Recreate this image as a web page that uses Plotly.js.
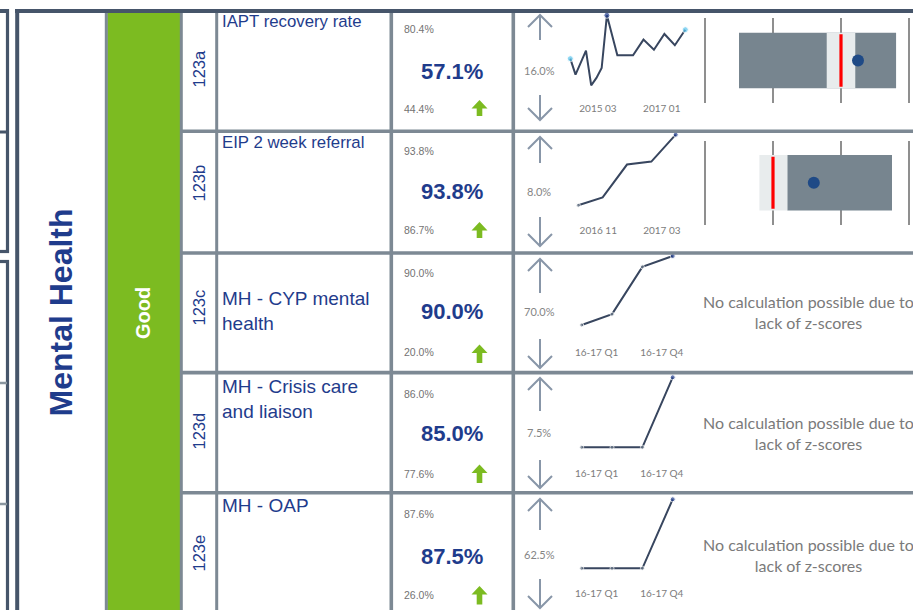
<!DOCTYPE html>
<html><head><meta charset="utf-8">
<script src="https://cdn.plot.ly/plotly-3.0.1.min.js"></script>
<style>html,body{margin:0;padding:0;background:#fff}#chart{width:913px;height:610px}</style>
</head><body><div id="chart"></div>
<script>
// ---------------- data ----------------
const sectionTitle = "Mental Health";
const ratingLabel = "Good";
const indicatorIds = ["123a", "123b", "123c", "123d", "123e"];
const indicatorNames = ["IAPT recovery rate", "EIP 2 week referral", "MH - CYP mental<br>health", "MH - Crisis care<br>and liaison", "MH - OAP"];
const currentValues = ["57.1%", "93.8%", "90.0%", "85.0%", "87.5%"];
const upperValues = ["80.4%", "93.8%", "90.0%", "86.0%", "87.6%"];
const lowerValues = ["44.4%", "86.7%", "20.0%", "77.6%", "26.0%"];
const changeValues = ["16.0%", "8.0%", "70.0%", "7.5%", "62.5%"];

const iaptPeriods = [0, 1, 3, 4, 5, 6, 7, 9, 12, 14, 16, 18, 20, 22];
const iaptValues = [58.1, 49.9, 62.2, 44.4, 48.2, 53.3, 80.4, 59.8, 59.8, 67.9, 62.7, 70.8, 65.0, 73.0];
const iaptTickVals = [5.3, 17.5];
const iaptTickText = ["2015 03", "2017 01"];

const eipPeriods = [0, 1, 2, 3, 4];
const eipValues = [86.7, 87.5, 90.8, 91.1, 93.8];
const eipTickVals = [0.82, 3.43];
const eipTickText = ["2016 11", "2017 03"];

const quarterPeriods = [0, 1, 2, 3];
const quarterTickVals = [0.49, 2.64];
const quarterTickText = ["16-17 Q1", "16-17 Q4"];
const cypValues = [20.0, 31.0, 79.0, 90.0];
const crisisValues = [77.6, 77.6, 77.6, 85.0];
const oapValues = [25.0, 25.0, 25.0, 87.5];

// z-score comparison (rows 123a, 123b)
const zBoxLow = [-1.50, -0.79];
const zBoxHigh = [0.81, 0.75];
const zBandLow = [-0.21, -1.20];
const zBandHigh = [0.21, -0.79];
const zComparator = [0.0, -1.0];
const zValue = [0.25, -0.40];
const zTicks = [-2, -1, 0, 1];
const noZText = "No calculation possible due to<br>lack of z-scores";

// ---------------- helpers ----------------
const W = 913, H = 610;
const X = p => p / W;
const Y = p => 1 - p / H;
const NAVY = '#1f3c8c';
const INNER = '#7d8994';
const OUTER = '#46556a';

const traces = [];
const layout = {
  width: W, height: H, margin: {l: 0, r: 0, t: 0, b: 0},
  paper_bgcolor: '#ffffff', plot_bgcolor: 'rgba(0,0,0,0)',
  showlegend: false, barmode: 'overlay',
  shapes: [], annotations: []
};

// ---------------- sparklines ----------------
const spark = [
  {xs: iaptPeriods, ys: iaptValues, tv: iaptTickVals, tt: iaptTickText, xl: 570.3, xr: 685.3, pTop: 15.3, pBot: 85.3, dBot: 100.5, style: 'ends'},
  {xs: eipPeriods, ys: eipValues, tv: eipTickVals, tt: eipTickText, xl: 578.3, xr: 675.7, pTop: 134.7, pBot: 205.3, dBot: 222.5, style: 'first'},
  {xs: quarterPeriods, ys: cypValues, tv: quarterTickVals, tt: quarterTickText, xl: 581.7, xr: 672.7, pTop: 256, pBot: 325, dBot: 345, style: 'all'},
  {xs: quarterPeriods, ys: crisisValues, tv: quarterTickVals, tt: quarterTickText, xl: 581.7, xr: 672.7, pTop: 377.3, pBot: 447.3, dBot: 466.3, style: 'all'},
  {xs: quarterPeriods, ys: oapValues, tv: quarterTickVals, tt: quarterTickText, xl: 581.7, xr: 672.7, pTop: 499.3, pBot: 568.3, dBot: 586.3, style: 'all'}
];

spark.forEach((s, i) => {
  const n = i + 1;
  const xa = 'x' + (n === 1 ? '' : n), ya = 'y' + (n === 1 ? '' : n);
  const xk = 'xaxis' + (n === 1 ? '' : n), yk = 'yaxis' + (n === 1 ? '' : n);
  const vmin = Math.min(...s.ys), vmax = Math.max(...s.ys);
  const upp = (vmax - vmin) / (s.pBot - s.pTop);
  const x0 = s.xs[0], x1 = s.xs[s.xs.length - 1];
  const xpp = (x1 - x0) / (s.xr - s.xl);
  const pad = 4;
  layout[xk] = {
    domain: [X(s.xl - pad), X(s.xr + pad)], range: [x0 - pad * xpp, x1 + pad * xpp],
    anchor: ya, showgrid: false, zeroline: false, showline: false, ticks: '',
    tickmode: 'array', tickvals: s.tv, ticktext: s.tt,
    tickfont: {family: 'Lato, Open Sans, sans-serif', size: 10, color: '#7c7c7c'}, fixedrange: true
  };
  layout[yk] = {
    domain: [Y(s.dBot), Y(s.pTop - pad)], range: [vmin - (s.dBot - s.pBot) * upp, vmax + pad * upp],
    anchor: xa, showgrid: false, zeroline: false, showline: false, showticklabels: false, ticks: '', fixedrange: true
  };
  traces.push({type: 'scatter', mode: 'lines', x: s.xs, y: s.ys, xaxis: xa, yaxis: ya,
    line: {color: '#38465f', width: 2}, hoverinfo: 'skip'});
  let mx = [], my = [], mc = [], ms = [];
  const last = s.xs.length - 1;
  if (s.style === 'ends') {
    const imax = s.ys.indexOf(vmax);
    [[0, '#5cc6ee', 6], [imax, '#1f3c8c', 6], [last, '#5cc6ee', 6]].forEach(([k, c, z]) => { mx.push(s.xs[k]); my.push(s.ys[k]); mc.push(c); ms.push(z); });
  } else if (s.style === 'first') {
    [[0, '#6d7b8c', 4], [last, '#1f3c8c', 5]].forEach(([k, c, z]) => { mx.push(s.xs[k]); my.push(s.ys[k]); mc.push(c); ms.push(z); });
  } else {
    s.xs.forEach((v, k) => { mx.push(v); my.push(s.ys[k]); mc.push(k === last ? '#1f3c8c' : '#6d7b8c'); ms.push(k === last ? 5 : 4); });
  }
  traces.push({type: 'scatter', mode: 'markers', x: mx, y: my, xaxis: xa, yaxis: ya, cliponaxis: false,
    marker: {color: mc, size: ms}, hoverinfo: 'skip'});
});

// ---------------- z-score bars ----------------
const zRows = [{gTop: 18.3, gBot: 102.7}, {gTop: 140.7, gBot: 224.7}];
const zUnit = 68;
zRows.forEach((r, i) => {
  const n = 6 + i;
  const xa = 'x' + n, ya = 'y' + n;
  layout['xaxis' + n] = {
    domain: [X(700), X(913)], range: [zTicks[0] - 5 / zUnit, zTicks[zTicks.length - 1] + 4 / zUnit],
    anchor: ya, tickmode: 'array', tickvals: zTicks, showticklabels: false, ticks: '',
    showgrid: true, gridcolor: '#8f8f8f', gridwidth: 1.6, zeroline: false, showline: false, fixedrange: true
  };
  layout['yaxis' + n] = {
    domain: [Y(r.gBot), Y(r.gTop)], range: [-0.5, 0.5], anchor: xa,
    showgrid: false, zeroline: false, showline: false, showticklabels: false, ticks: '', fixedrange: true
  };
  traces.push({type: 'bar', orientation: 'h', y: [0], base: [zBoxLow[i]], x: [zBoxHigh[i] - zBoxLow[i]], width: 0.66,
    xaxis: xa, yaxis: ya, marker: {color: '#77858f', line: {width: 0}}, hoverinfo: 'skip'});
  traces.push({type: 'bar', orientation: 'h', y: [0], base: [zBandLow[i]], x: [zBandHigh[i] - zBandLow[i]], width: 0.66,
    xaxis: xa, yaxis: ya, marker: {color: '#e8eced', line: {width: 0}}, hoverinfo: 'skip'});
  traces.push({type: 'scatter', mode: 'lines', x: [zComparator[i], zComparator[i]], y: [-0.31, 0.31],
    xaxis: xa, yaxis: ya, line: {color: '#ff0000', width: 3.2}, hoverinfo: 'skip'});
  traces.push({type: 'scatter', mode: 'markers', x: [zValue[i]], y: [0], xaxis: xa, yaxis: ya, cliponaxis: false,
    marker: {color: '#1f4a86', size: 12}, hoverinfo: 'skip'});
});

// ---------------- table structure ----------------
function line(x0, y0, x1, y1, color, w) {
  layout.shapes.push({type: 'line', xref: 'paper', yref: 'paper', x0: X(x0), y0: Y(y0), x1: X(x1), y1: Y(y1),
    line: {color: color, width: w}, layer: 'above'});
}
layout.shapes.push({type: 'rect', xref: 'paper', yref: 'paper', x0: X(107.3), x1: X(180), y0: Y(13), y1: Y(612),
  fillcolor: '#7cbb21', line: {width: 0}, layer: 'below'});
// far-left fragments
line(0, 11, 9, 11, OUTER, 4);
line(7.5, 9, 7.5, 253, OUTER, 3.2);
line(0, 132, 8, 132, OUTER, 3);
line(0, 251.5, 9, 251.5, OUTER, 3.2);
line(0, 261.5, 9, 261.5, OUTER, 3.2);
line(7.5, 260, 7.5, 612, OUTER, 3.2);
line(0, 383, 7, 383, '#8a96a0', 2.5);
line(0, 504, 7, 504, '#8a96a0', 2.5);
// inner grid
[106.3, 181.3, 216.7, 391.3, 513.3].forEach(x => line(x, 13, x, 612, INNER, x > 380 ? 3.6 : 3));
[131.3, 253, 372.6, 492.8].forEach(y => line(181, y, 913, y, INNER, 3.6));
// outer frame
line(15, 11, 913, 11, OUTER, 4.2);
line(17.2, 9, 17.2, 612, OUTER, 4);

// trend arrows
const arrowGeom = [[15, 40, 95, 120], [137, 163, 217, 246], [259, 293, 339, 368], [378, 411, 460, 488], [499, 530, 579, 608]];
const acx = 540, aw = 12;
function P(x, y) { return X(x) + ',' + Y(y); }
arrowGeom.forEach(g => {
  layout.shapes.push({type: 'path', xref: 'paper', yref: 'paper', line: {color: '#8896a8', width: 2},
    path: `M ${P(acx - aw, g[0] + aw)} L ${P(acx, g[0])} L ${P(acx + aw, g[0] + aw)} M ${P(acx, g[0])} L ${P(acx, g[1])}`});
  layout.shapes.push({type: 'path', xref: 'paper', yref: 'paper', line: {color: '#8896a8', width: 2},
    path: `M ${P(acx, g[2])} L ${P(acx, g[3])} M ${P(acx - aw, g[3] - aw)} L ${P(acx, g[3])} L ${P(acx + aw, g[3] - aw)}`});
});
// green status arrows
const greenTop = [100, 222, 344.5, 464.5, 586];
const greenH = [16, 16, 18.5, 18.5, 18.5];
greenTop.forEach((t, i) => {
  const cx = 479.5, hw = 8, hh = 8.5, sw = 2.8, h = greenH[i];
  layout.shapes.push({type: 'path', xref: 'paper', yref: 'paper', fillcolor: '#7cbb21', line: {width: 0},
    path: `M ${P(cx, t)} L ${P(cx + hw, t + hh)} L ${P(cx + sw, t + hh)} L ${P(cx + sw, t + h)} L ${P(cx - sw, t + h)} L ${P(cx - sw, t + hh)} L ${P(cx - hw, t + hh)} Z`});
});

// ---------------- text ----------------
function ann(text, x, y, opts) {
  layout.annotations.push(Object.assign({text: text, x: X(x), y: Y(y), xref: 'paper', yref: 'paper', showarrow: false,
    xanchor: 'center', yanchor: 'middle'}, opts));
}
const ARIAL = 'Liberation Sans, Arial, sans-serif';
ann('<b>' + sectionTitle + '</b>', 60, 312.5, {textangle: -90, font: {family: ARIAL, size: 32, color: NAVY}});
ann('<b>' + ratingLabel + '</b>', 143, 313, {textangle: -90, font: {family: ARIAL, size: 20, color: '#ffffff'}});

const idY = [69, 183, 308, 431, 553];
indicatorIds.forEach((t, i) => ann(t, 198.5, idY[i], {textangle: -90, font: {family: ARIAL, size: 16.5, color: NAVY}}));

const nameY = [22, 143, 311, 398.5, 505];
const nameSize = [16.8, 16.8, 19, 19, 19];
indicatorNames.forEach((t, i) => ann(t, 220, nameY[i], {xanchor: 'left', align: 'left', font: {family: ARIAL, size: nameSize[i], color: NAVY}}));

const topY = [29.3, 151, 272.7, 394, 514];
const midY = [71.7, 191, 311.7, 433.3, 556.7];
const botY = [109.3, 230, 351.7, 474, 595];
const chgY = [70.7, 191.3, 311.7, 432.7, 554];
currentValues.forEach((v, i) => {
  ann(upperValues[i], 402, topY[i], {xanchor: 'left', font: {family: ARIAL, size: 10.5, color: '#737373'}});
  ann('<b>' + v + '</b>', 452, midY[i], {font: {family: ARIAL, size: 22, color: NAVY}});
  ann(lowerValues[i], 402, botY[i], {xanchor: 'left', font: {family: ARIAL, size: 10.5, color: '#737373'}});
  ann(changeValues[i], 539, chgY[i], {font: {family: 'Lato, Open Sans, sans-serif', size: 11, color: '#858585'}});
});

const noZY = [312, 433, 554.5];
noZY.forEach(y => ann(noZText, 808.8, y, {font: {family: 'Lato, Open Sans, sans-serif', size: 16, color: '#7a7a7a'}}));

Plotly.newPlot('chart', traces, layout, {displayModeBar: false, staticPlot: true});
</script>
</body></html>
